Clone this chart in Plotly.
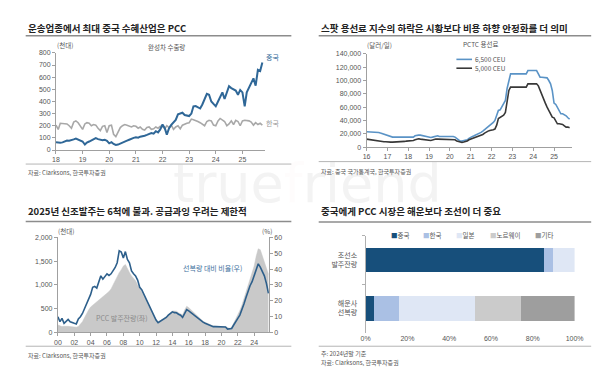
import plotly.graph_objects as go
import pandas as pd

# ---------------- data ----------------
# Panel 1: 완성차 수출량 (천대), monthly from 2018-01
china_exports = [65, 62, 60, 63, 72, 78, 77, 80, 88, 95, 85, 75,
                 70, 45, 62, 70, 78, 88, 98, 90, 85, 80, 85, 75,
                 55, 65, 50, 42, 45, 55, 62, 70, 78, 85, 95, 100,
                 105, 102, 110, 112, 118, 125, 135, 140, 135, 155, 145, 170,
                 210, 180, 127, 180, 207, 230, 248, 294, 300, 307, 288, 285,
                 280, 300, 360, 362, 355, 342, 375, 420, 463, 455, 400, 380,
                 360, 400, 440, 475, 420, 470, 525, 510, 500, 490, 455, 495,
                 475, 360, 475, 515, 540, 590, 530, 660, 650, 720]
korea_exports = [205, 170, 220, 220, 218, 215, 200, 180, 230, 240, 225, 195,
                 170, 215, 225, 220, 200, 210, 205, 180, 160, 195, 200, 145,
                 200, 205, 130, 110, 150, 185, 200, 210, 205, 195, 190, 200,
                 195, 180, 190, 170, 165, 185, 190, 170, 175, 190, 180, 195,
                 195, 175, 200, 185, 205, 170, 190, 200, 175, 205, 215, 220,
                 225, 255, 250, 245, 235, 225, 210, 200, 235, 245, 240, 205,
                 200, 240, 260, 250, 235, 200, 215, 240, 210, 245, 235, 200,
                 240, 245, 245, 240, 230, 205, 225, 210, 220, 205]
months_p1 = pd.date_range("2018-01-01", periods=len(china_exports), freq="MS")

# Panel 2: PCTC 용선료 (달러/일), monthly from 2016-01
rate_6500_k = [23, 23, 22.5, 22.5, 22, 22, 22, 22, 21, 20, 19, 18,
               17, 16, 15.5, 15, 15, 15, 15, 14.5, 14.5, 14.5, 14.5, 14.5,
               14, 14, 14, 15, 17, 18, 18, 18, 17.5, 17, 16, 15,
               14.5, 14.5, 15, 16, 17, 17, 16, 16, 16, 17, 17, 16.5,
               16, 16.5, 16, 15, 13, 10, 9, 9, 9.5, 10, 11, 13,
               15, 16, 17, 18, 19, 20, 22, 24, 26, 28, 30, 32,
               35, 37, 40, 48, 55, 56, 60, 64, 70, 88, 100, 110,
               110, 110, 110, 110, 110, 110, 110, 110, 110, 115, 115, 115,
               115, 115, 115, 110, 105, 105, 105, 105, 104, 100, 95, 85,
               66, 64, 60, 55, 50, 50, 49, 47, 44, 42]
rate_5000_k = [12, 11.5, 11, 10.5, 10, 10, 9.5, 9, 9, 8.5, 8, 8,
               7.5, 7.5, 7.5, 7.5, 7.5, 7.5, 7.5, 8, 8, 8, 8.5, 9,
               9, 9, 9.5, 10, 11, 12, 12.5, 12, 11.5, 11, 10.5, 10,
               10, 10, 10.5, 11.5, 12, 12, 12, 12, 12, 12, 12, 12,
               12, 12, 12, 11, 9, 8, 7, 7, 7.5, 8, 9, 11,
               12, 13, 13.5, 14, 15, 16, 17, 19, 21, 23, 24, 25,
               25, 26, 27, 33, 43, 45, 46, 48, 52, 70, 85, 90,
               90, 90, 90, 90, 90, 90, 90, 90, 90, 95, 95, 95,
               95, 95, 95, 92, 85, 78, 72, 66, 60, 55, 48, 45,
               44, 40, 35, 35, 35, 34, 32, 30, 30, 29]
months_p2 = pd.date_range("2016-01-01", periods=len(rate_6500_k), freq="MS")
rate_6500 = [v * 1000 for v in rate_6500_k]
rate_5000 = [v * 1000 for v in rate_5000_k]

# Panel 3: PCC 발주잔량 (천대, left) / 선복량 대비 비율 (%, right), quarterly from 2000
orderbook = [158, 135, 124, 130, 137, 130, 124, 115, 103, 110, 124, 170,
             227, 310, 400, 470, 536, 570, 605, 640, 673, 710, 742, 780,
             811, 860, 914, 1000, 1086, 1189, 1258, 1320, 1395, 1430, 1326, 1260,
             1189, 1140, 1086, 1000, 914, 850, 777, 700, 605, 520, 433, 350,
             275, 227, 250, 275, 296, 330, 364, 410, 454, 450, 447, 415,
             385, 370, 470, 550, 522, 480, 433, 390, 344, 300, 261, 235,
             213, 190, 172, 155, 137, 130, 128, 126, 124, 120, 117, 100,
             89, 110, 192, 270, 364, 460, 570, 700, 845, 960, 1086, 1240,
             1395, 1601, 1759, 1739, 1601, 1464, 1326, 1223]
ratio_pct = [9.9, 6.8, 8.9, 5.8, 7.0, 8.2, 6.8, 6.5, 5.8, 5.4, 8.5, 9.9,
             12, 15, 18, 21, 24, 28.5, 29, 28, 32.6, 35.7, 33.6, 35,
             37, 36, 37, 39, 41, 44, 51.5, 50.7, 47, 51, 46, 44,
             38.8, 37, 35.7, 33, 28.5, 27, 24.3, 22, 19.2, 16, 13, 10.5,
             7.8, 6.2, 7, 7.5, 8.2, 9.5, 10.9, 12, 13, 12.5, 12.4, 11.5,
             10.9, 9.5, 12, 14.4, 13.6, 12.5, 11.5, 10.5, 9.3, 8.2, 7.2, 6.5,
             5.8, 5.2, 4.7, 4.2, 3.7, 3.7, 3.6, 3.6, 3.7, 3.6, 3.5, 2.1,
             2.1, 2.5, 4.7, 6.5, 8.9, 11, 14, 18, 22, 26, 29.5, 32,
             35.7, 38.8, 43.3, 41.2, 38.5, 35.7, 31, 24.7]
quarters_p3 = pd.date_range("2000-01-01", periods=len(orderbook), freq="QS")

# Panel 4: share by country (%)
share_categories = ["해운사<br>선복량", "조선소<br>발주잔량"]
share_series = ["중국", "한국", "일본", "노르웨이", "기타"]
share_values = {
    "중국": [4.0, 85.6],
    "한국": [12.0, 4.2],
    "일본": [36.5, 10.2],
    "노르웨이": [22.0, 0.0],
    "기타": [25.5, 0.0],
}
share_colors = {"중국": "#174f7b", "한국": "#aac0e4", "일본": "#dfe7f5",
                "노르웨이": "#cbcbcb", "기타": "#9e9e9e"}
share_ticks = [0, 20, 40, 60, 80, 100]
share_ticktext = ["0%", "20%", "40%", "60%", "80%", "100%"]

# ---------------- layout helpers ----------------
W, H = 600, 368
def px(x):
    return x / W
def py(y):
    return 1 - y / H

TXT = "#555555"
AX = "#a0a0a0"
FONT = "Liberation Sans, Noto Sans CJK KR, sans-serif"
KFONT = "Noto Sans CJK KR, Liberation Sans, sans-serif"

def axis_style(**kw):
    d = dict(showgrid=False, zeroline=False, showline=True, linecolor=AX, linewidth=1,
             ticks="outside", ticklen=3, tickcolor=AX,
             tickfont=dict(size=7, color=TXT, family=FONT))
    d.update(kw)
    return d

fig = go.Figure()

# Panel 1
fig.add_trace(go.Scatter(x=months_p1, y=korea_exports, mode="lines", name="한국",
                         line=dict(color="#a8a8a8", width=1.6), xaxis="x", yaxis="y"))
fig.add_trace(go.Scatter(x=months_p1, y=china_exports, mode="lines", name="중국",
                         line=dict(color="#2f6797", width=2), xaxis="x", yaxis="y"))

# Panel 2
fig.add_trace(go.Scatter(x=months_p2, y=rate_6500, mode="lines", name="6,500 CEU",
                         line=dict(color="#5a93c6", width=1.6), xaxis="x2", yaxis="y2"))
fig.add_trace(go.Scatter(x=months_p2, y=rate_5000, mode="lines", name="5,000 CEU",
                         line=dict(color="#383838", width=1.6), xaxis="x2", yaxis="y2"))

# Panel 3
fig.add_trace(go.Scatter(x=quarters_p3, y=orderbook, mode="lines", fill="tozeroy",
                         fillcolor="#c9c9c9", line=dict(color="#c9c9c9", width=0.5),
                         name="PCC 발주잔량(좌)", xaxis="x3", yaxis="y3"))
fig.add_trace(go.Scatter(x=quarters_p3, y=ratio_pct, mode="lines",
                         line=dict(color="#2d5f8b", width=1.6),
                         name="선복량 대비 비율(우)", xaxis="x3", yaxis="y4"))

# Panel 4
for s in share_series:
    fig.add_trace(go.Bar(y=share_categories, x=share_values[s], orientation="h", name=s,
                         marker=dict(color=share_colors[s], line=dict(width=0)),
                         width=0.5, xaxis="x5", yaxis="y5"))

fig.update_layout(
    width=W, height=H, margin=dict(l=0, r=0, t=0, b=0),
    paper_bgcolor="white", plot_bgcolor="white", showlegend=False,
    barmode="stack", font=dict(family=FONT, size=7, color=TXT),
    xaxis=axis_style(domain=[px(44), px(258)], anchor="y", type="date",
                     range=["2018-01-01", "2025-11-06"], tick0="2018-01-01",
                     dtick="M12", tickformat="%y"),
    yaxis=axis_style(domain=[py(140.7), py(41.7)], anchor="x", range=[0, 800], dtick=100),
    xaxis2=axis_style(domain=[px(362), px(572)], anchor="y2", type="date",
                      range=["2016-01-01", "2025-11-06"], tick0="2016-01-01",
                      dtick="M12", tickformat="%y"),
    yaxis2=axis_style(domain=[py(137.7), py(42.7)], anchor="x2", range=[0, 140000],
                      dtick=20000, tickformat=",d"),
    xaxis3=axis_style(domain=[px(46), px(262)], anchor="y3", type="date",
                      range=["2000-01-01", "2025-10-20"], tick0="2000-01-01",
                      dtick="M24", tickformat="%y"),
    yaxis3=axis_style(domain=[py(326.7), py(229.7)], anchor="x3", range=[0, 2000],
                      dtick=500, tickformat=",d"),
    yaxis4=axis_style(domain=[py(326.7), py(229.7)], anchor="x3", overlaying="y3",
                      side="right", range=[0, 60], dtick=10),
    xaxis5=dict(domain=[px(361), px(575)], anchor="y5", range=[0, 100],
                tickmode="array", tickvals=share_ticks, ticktext=share_ticktext,
                showgrid=False, zeroline=False, showline=False, ticks="",
                tickfont=dict(size=7, color=TXT, family=FONT)),
    yaxis5=dict(domain=[py(327), py(228)], anchor="x5", type="category",
                showgrid=False, zeroline=False, showline=True, linecolor="#b0b0b0",
                ticks="outside", tickson="boundaries", ticklen=3, tickcolor="#b0b0b0",
                ticklabelstandoff=6,
                tickfont=dict(size=7, color=TXT, family=KFONT)),
)

annotations = []
def note(x, y, text, size=7, color=TXT, xanchor="left", yanchor="middle", family=KFONT):
    annotations.append(dict(x=px(x), y=py(y), xref="paper", yref="paper", text=text,
                            showarrow=False, xanchor=xanchor, yanchor=yanchor,
                            font=dict(size=size, color=color, family=family)))

# faint watermark, drawn first so other texts sit on top
annotations.append(dict(x=px(302), y=py(175), xref="paper", yref="paper",
                        text="true<span style='color:rgba(235,170,170,0.2)'>f</span>riend",
                        showarrow=False, xanchor="center", yanchor="middle",
                        font=dict(size=54, color="rgba(190,190,190,0.18)",
                                  family="DejaVu Sans")))

TITLE = "#222222"
note(13, 16, "<b>운송업종에서 최대 중국 수혜산업은 PCC</b>", size=9.5, color=TITLE)
note(313, 16, "<b>스팟 용선료 지수의 하락은 시황보다 비용 하향 안정화를 더 의미</b>", size=9.5, color=TITLE)
note(13, 203, "<b>2025년 신조발주는 6척에 불과. 공급과잉 우려는 제한적</b>", size=9.5, color=TITLE)
note(313, 203, "<b>중국에게 PCC 시장은 해운보다 조선이 더 중요</b>", size=9.5, color=TITLE)

# panel 1 texts
note(43, 34, "(천대)", size=6.5)
note(157, 36, "완성차 수출량", size=6.5, xanchor="center")
note(257, 46, "중국", size=7, color="#2f6797")
note(257, 113, "한국", size=7, color="#999999")
note(13, 164, "자료: Clarksons, 한국투자증권", size=6)

# panel 2 texts
note(360, 34, "(달러/일)", size=6.5)
note(459, 33, "PCTC 용선료", size=6.5)
note(471, 48, "6,500 CEU", size=6.5)
note(471, 57, "5,000 CEU", size=6.5)
note(313, 163, "자료: 중국 국가통계국, 한국투자증권", size=6)

# panel 3 texts
note(44, 223, "(천대)", size=6.5)
note(253, 223, "(%)", size=6.5)
note(83, 312, "PCC 발주잔량(좌)", size=7, color="#8a8a8a")
note(172, 261, "선복량 대비 비율(우)", size=7, color="#3f72a0")
note(13, 350, "자료: Clarksons, 한국투자증권", size=6)

# panel 4 legend and notes
legend_x = {"중국": 385, "한국": 418, "일본": 452, "노르웨이": 486, "기타": 532}
for s in share_series:
    note(legend_x[s], 227, f"<span style='color:{share_colors[s]}'>■</span>{s}", size=6.5)
note(313, 348, "주: 2024년말 기준", size=6)
note(313, 357, "자료: Clarksons, 한국투자증권", size=6)

fig.update_layout(annotations=annotations)

# title rules, bottom rules, legend swatches for panel 2
shapes = []
def hline(x0, x1, y, color, width):
    shapes.append(dict(type="line", xref="paper", yref="paper", x0=px(x0), x1=px(x1),
                       y0=py(y), y1=py(y), line=dict(color=color, width=width)))
hline(13, 285, 24.3, "#8c8c8c", 1.5)
hline(313, 592, 24.3, "#8c8c8c", 1.5)
hline(13, 285, 213.5, "#8c8c8c", 1.5)
hline(313, 592, 214, "#8c8c8c", 1.5)
hline(13, 285, 155, "#b5b5b5", 1)
hline(313, 592, 152.5, "#b5b5b5", 1)
hline(13, 285, 340.7, "#b5b5b5", 1)
hline(313, 592, 340.7, "#b5b5b5", 1)
hline(454, 470, 48.3, "#5a93c6", 1.6)
hline(454, 470, 57.3, "#383838", 1.6)
fig.update_layout(shapes=shapes)

fig.write_html("out.html")
